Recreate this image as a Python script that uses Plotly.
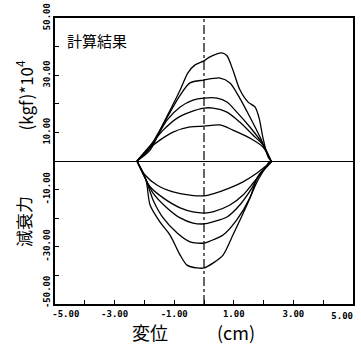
import plotly.graph_objects as go

# ---- data (displacement cm, damping force kgf*10^4) ----
u1_x = [-2.25, -1.81, -1.37, -1.1, -0.8, -0.54, -0.3, 0.0, 0.2, 0.6, 0.77, 0.97, 1.2, 1.48, 1.71, 1.85, 1.98, 2.15, 2.25]
u1_y = [0, 3.8, 13, 18.5, 24.8, 30.8, 33.6, 35, 36.4, 37.8, 36.8, 31.8, 25, 20.6, 18.9, 15, 8, 1.4, 0]
u2_x = [-2.25, -1.81, -1.48, -1.14, -0.8, -0.47, 0.0, 0.54, 0.87, 1.2, 1.54, 1.88, 2.15, 2.25]
u2_y = [0, 5, 10.8, 17, 23, 27.3, 28.3, 29, 27.3, 22, 15.4, 8.4, 2, 0]
u3_x = [-2.25, -1.85, -1.58, -1.24, -0.8, -0.37, 0.0, 0.44, 0.77, 1.1, 1.54, 1.95, 2.25]
u3_y = [0, 4, 8.4, 14.3, 18.9, 21.3, 22, 22, 20.6, 17.1, 11.9, 6.3, 0]
u4_x = [-2.25, -1.71, -1.37, -0.9, -0.47, 0.0, 0.3, 0.77, 1.2, 1.65, 1.98, 2.25]
u4_y = [0, 6.6, 10.8, 15, 17.1, 18.5, 18.5, 17.1, 13.6, 9, 5.6, 0]
u5_x = [-2.25, -1.91, -1.48, -1.04, -0.47, 0.0, 0.54, 0.97, 1.54, 1.98, 2.25]
u5_y = [0, 3.8, 7.3, 10.1, 11.9, 12.2, 12.6, 10.8, 8, 4.9, 0]

l1_x = [-2.25, -1.98, -1.58, -1.04, -0.47, 0.0, 0.3, 0.87, 1.31, 1.78, 2.28]
l1_y = [0, -4.9, -8.4, -10.8, -11.9, -12.2, -11.5, -9.4, -7.3, -4.2, 0]
l2_x = [-2.25, -1.95, -1.81, -1.37, -0.8, -0.37, 0.0, 0.3, 0.87, 1.31, 1.65, 1.9, 2.28]
l2_y = [0, -6.5, -9, -12.9, -16.4, -17.8, -18.2, -17.8, -15.4, -11.9, -7.7, -4.5, 0]
l3_x = [-2.25, -1.95, -1.71, -1.24, -0.8, -0.37, 0.0, 0.3, 0.77, 1.2, 1.61, 1.85, 2.28]
l3_y = [0, -6.5, -11.2, -16.4, -19.9, -21.7, -22, -21.3, -19.6, -15.4, -9.4, -5, 0]
l4_x = [-2.25, -1.95, -1.71, -1.37, -0.9, -0.47, 0.0, 0.2, 0.64, 1.1, 1.54, 1.8, 2.28]
l4_y = [0, -6.5, -13.6, -19.9, -25.2, -28.3, -28.7, -28, -25.9, -20.6, -12.9, -5.5, 0]
l5_x = [-2.25, -1.95, -1.81, -1.48, -1.14, -0.8, -0.57, -0.23, 0.0, 0.3, 0.64, 0.97, 1.44, 1.78, 2.2]
l5_y = [0, -6.5, -15.4, -21.3, -25.9, -32.9, -36.4, -37.4, -37.4, -35.7, -32.9, -25.9, -15.4, -7.3, 0]

center_x = [0, 0]
center_y = [-50, 50]

x_tickvals = [-5, -3, -1, 1, 3]
x_ticktext = ["\u00a0\u00a0\u00a0\u00a0-5.00", "-3.00", "-1.00", "1.00", "3.00"]
x_end_tickvals = [5]
x_end_ticktext = ["5.00"]
y_tickvals = [-50, -30, -10, 10, 30, 50]
y_ticktext = ["\u00a0\u00a0\u00a0\u00a0-50.00", "-30.00", "-10.00", "10.00", "30.00", "50.00"]

curves = [(u1_x, u1_y), (u2_x, u2_y), (u3_x, u3_y), (u4_x, u4_y), (u5_x, u5_y),
          (l1_x, l1_y), (l2_x, l2_y), (l3_x, l3_y), (l4_x, l4_y), (l5_x, l5_y)]

fig = go.Figure()
fig.add_trace(go.Scatter(x=center_x, y=center_y, mode="lines", xaxis="x2",
                         line=dict(color="black", width=1.2, dash="dashdot"),
                         showlegend=False, hoverinfo="skip"))
for cx, cy in curves:
    fig.add_trace(go.Scatter(x=cx, y=cy, mode="lines",
                             line=dict(color="black", width=1.3, shape="spline", smoothing=0.8),
                             showlegend=False))

tick_font = dict(family="DejaVu Sans Mono", size=9, color="black", weight="bold")

fig.update_layout(
    width=361, height=358,
    margin=dict(l=55, r=8, t=18, b=54),
    paper_bgcolor="white", plot_bgcolor="white",
    xaxis=dict(range=[-5, 5], tickvals=x_tickvals, ticktext=x_ticktext,
               ticks="inside", ticklen=4, tickcolor="black", tickfont=tick_font,
               ticklabeloverflow="allow", automargin=False,
               showgrid=False, zeroline=False, showline=True, linecolor="black",
               linewidth=1.5, mirror=True,
               minor=dict(dtick=1, ticks="inside", ticklen=4, tickcolor="black", showgrid=False)),
    xaxis2=dict(range=[-5, 5], overlaying="x", anchor="y", side="bottom",
                tickvals=x_end_tickvals, ticktext=x_end_ticktext,
                ticklabelposition="outside left", ticks="", tickfont=tick_font,
                ticklabelstandoff=5,
                ticklabeloverflow="allow", automargin=False,
                showgrid=False, zeroline=False, showline=False),
    yaxis=dict(range=[-50, 50], tickvals=y_tickvals, ticktext=y_ticktext, tickangle=-90,
               ticks="inside", ticklen=4, tickcolor="black", tickfont=tick_font,
               ticklabeloverflow="allow", automargin=False,
               showgrid=False, zeroline=True, zerolinecolor="black", zerolinewidth=1.3,
               showline=True, linecolor="black", linewidth=1.5, mirror=True,
               minor=dict(dtick=10, ticks="inside", ticklen=4, tickcolor="black", showgrid=False)),
    annotations=[
        dict(text="計算結果", xref="paper", yref="paper", x=0.141, y=0.923,
             xanchor="center", yanchor="middle", showarrow=False,
             font=dict(family="Noto Sans CJK JP", size=15, color="black")),
        dict(text="(kgf)*10<sup>4</sup>", xref="paper", yref="paper", x=-0.104, y=0.729,
             xanchor="center", yanchor="middle", textangle=-90, showarrow=False,
             font=dict(family="Noto Sans CJK JP", size=17, color="black")),
        dict(text="減衰力", xref="paper", yref="paper", x=-0.104, y=0.287,
             xanchor="center", yanchor="middle", textangle=-90, showarrow=False,
             font=dict(family="Noto Sans CJK JP", size=17, color="black")),
        dict(text="変位", xref="paper", yref="paper", x=(150 - 55) / 298, y=-0.098,
             xanchor="center", yanchor="middle", showarrow=False,
             font=dict(family="Noto Sans CJK JP", size=18, color="black")),
        dict(text="(cm)", xref="paper", yref="paper", x=(236 - 55) / 298, y=-0.098,
             xanchor="center", yanchor="middle", showarrow=False,
             font=dict(family="Noto Sans CJK JP", size=18, color="black")),
    ],
)

fig.write_html("out.html")
